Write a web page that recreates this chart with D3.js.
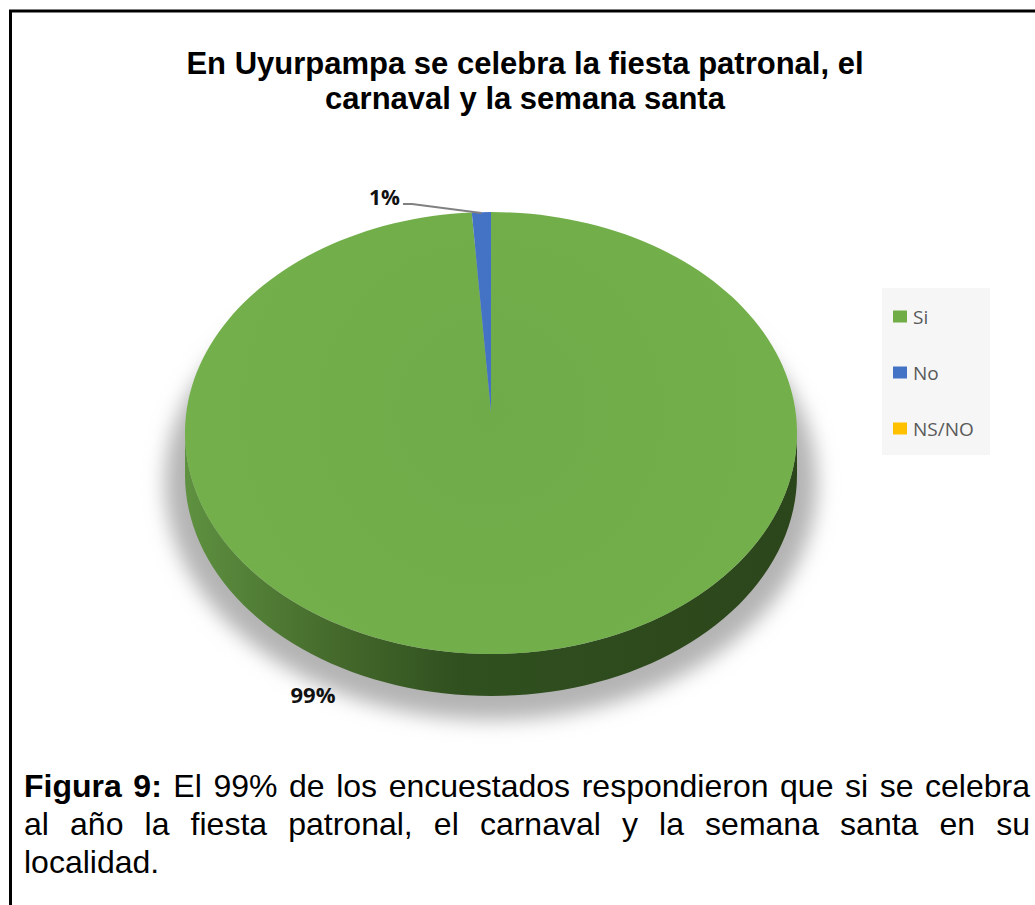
<!DOCTYPE html>
<html>
<head>
<meta charset="utf-8">
<script src="https://cdn.jsdelivr.net/npm/d3@7"></script>
<style>
  body { margin: 0; background: #fff; }
  svg { display: block; }
</style>
</head>
<body>
<svg id="chart" width="1035" height="905"></svg>
<script>
const categories = ['Si', 'No', 'NS/NO']
const values = [99, 1, 0]
const colors = ['#70ad47', '#4472c4', '#ffc000']
const titleLines = ['En Uyurpampa se celebra la fiesta patronal, el', 'carnaval y la semana santa']
const captionLines = [
  [['Figura 9:', true], ['El 99% de los encuestados respondieron que si se celebra', false]],
  [['al año la fiesta patronal, el carnaval y la semana santa en su', false]],
  [['localidad.', false]]
]

const svg = d3.select('#chart')

// frame
svg.append('rect')
  .attr('x', 10.5).attr('y', 11)
  .attr('width', 1040).attr('height', 920)
  .attr('fill', 'none').attr('stroke', '#000').attr('stroke-width', 3)

// title
svg.append('text')
  .attr('text-anchor', 'middle')
  .attr('font-family', 'Liberation Sans, Arial, sans-serif')
  .attr('font-weight', 'bold')
  .attr('font-size', 31)
  .selectAll('tspan')
  .data(titleLines)
  .join('tspan')
    .attr('x', 525)
    .attr('y', (d, i) => 74 + i * 35)
    .text(d => d)

// pie geometry (3d look)
const cx = 491, cy = 433, rx = 306, ry = 221, depth = 42, apexY = 412

const defs = svg.append('defs')
defs.append('filter').attr('id', 'blur')
    .attr('x', '-20%').attr('y', '-20%').attr('width', '140%').attr('height', '140%')
  .append('feGaussianBlur').attr('stdDeviation', 10)

const sideGrad = defs.append('linearGradient').attr('id', 'side')
    .attr('gradientUnits', 'userSpaceOnUse')
    .attr('x1', cx - rx).attr('x2', cx + rx).attr('y1', 0).attr('y2', 0)
sideGrad.selectAll('stop')
  .data([[0, '#5e9140'], [0.25, '#44692b'], [0.45, '#30501f'], [1, '#2c461b']])
  .join('stop')
    .attr('offset', d => d[0])
    .attr('stop-color', d => d[1])

const topGrad = defs.append('radialGradient').attr('id', 'topface')
    .attr('gradientUnits', 'userSpaceOnUse')
    .attr('cx', cx).attr('cy', apexY).attr('r', rx)
topGrad.selectAll('stop')
  .data([[0, '#6fab48'], [1, '#73b04b']])
  .join('stop')
    .attr('offset', d => d[0])
    .attr('stop-color', d => d[1])

// shadow
svg.append('ellipse')
  .attr('cx', cx).attr('cy', cy + 50)
  .attr('rx', rx + 20).attr('ry', ry + 16)
  .attr('fill', '#b4b4b4')
  .attr('filter', 'url(#blur)')

const pie = d3.pie().sort(null).value(d => d)
const arcs = pie(values).map((a, i) => Object.assign(a, { i }))

const pt = (ang, dy = 0) => [cx + rx * Math.sin(ang), cy - ry * Math.cos(ang) + dy]

// sides: only the front half (pi/2 .. 3pi/2)
const sideArcs = arcs.map(a => {
  const s = Math.max(a.startAngle, Math.PI / 2)
  const e = Math.min(a.endAngle, 3 * Math.PI / 2)
  return { i: a.i, s, e }
}).filter(d => d.e > d.s)

svg.append('g').selectAll('path')
  .data(sideArcs)
  .join('path')
    .attr('fill', d => d.i === 0 ? 'url(#side)' : d3.color(colors[d.i]).darker(1.3))
    .attr('d', d => {
      const p = d3.path()
      const [x0, y0] = pt(d.s)
      const [x1, y1] = pt(d.e)
      p.moveTo(x0, y0)
      // sample the ellipse edge
      const n = 80
      for (let k = 1; k <= n; k++) {
        const t = d.s + (d.e - d.s) * k / n
        p.lineTo(...pt(t))
      }
      p.lineTo(x1, y1 + depth)
      for (let k = n - 1; k >= 0; k--) {
        const t = d.s + (d.e - d.s) * k / n
        p.lineTo(...pt(t, depth))
      }
      p.closePath()
      return p.toString()
    })

// top faces
svg.append('g').selectAll('path')
  .data(arcs.filter(a => a.endAngle > a.startAngle))
  .join('path')
    .attr('fill', d => d.i === 0 ? 'url(#topface)' : colors[d.i])
    .attr('d', d => {
      const [x0, y0] = pt(d.startAngle)
      const [x1, y1] = pt(d.endAngle)
      const large = d.endAngle - d.startAngle > Math.PI ? 1 : 0
      return `M${cx},${apexY}L${x0},${y0}A${rx},${ry} 0 ${large} 1 ${x1},${y1}Z`
    })

// data labels
const labelFont = 'Open Sans, Noto Sans, sans-serif'
const smallArc = arcs[1]
const [lx, ly] = pt((smallArc.startAngle + smallArc.endAngle) / 2)
svg.append('path')
  .attr('d', d3.line()([[403, 204], [412, 204], [lx, ly + 1]]))
  .attr('fill', 'none').attr('stroke', '#808080').attr('stroke-width', 2)

svg.append('text')
  .attr('x', 400).attr('y', 205)
  .attr('text-anchor', 'end')
  .attr('font-family', labelFont).attr('font-weight', 'bold').attr('font-size', 21)
  .attr('fill', '#111')
  .text(values[1] + '%')

svg.append('text')
  .attr('x', 313).attr('y', 703)
  .attr('text-anchor', 'middle')
  .attr('font-family', labelFont).attr('font-weight', 'bold').attr('font-size', 22)
  .attr('fill', '#111')
  .text(values[0] + '%')

// legend
const legend = svg.append('g')
legend.append('rect')
  .attr('x', 882).attr('y', 288).attr('width', 108).attr('height', 167)
  .attr('fill', '#f6f6f6')

const item = legend.selectAll('g.item')
  .data(categories)
  .join('g')
    .attr('class', 'item')
    .attr('transform', (d, i) => `translate(893,${316.5 + i * 56})`)
item.append('rect')
  .attr('x', 0).attr('y', -6).attr('width', 14).attr('height', 12)
  .attr('fill', (d, i) => colors[i])
item.append('text')
  .attr('x', 20).attr('y', 7)
  .attr('font-family', labelFont).attr('font-size', 19)
  .attr('fill', '#595959')
  .text(d => d)

// caption, justified lines
const capX0 = 24, capX1 = 1030
captionLines.forEach((line, li) => {
  const y = 797 + li * 38
  const words = []
  line.forEach(([txt, bold]) => txt.split(' ').forEach(w => words.push({ w, bold })))
  const g = svg.append('g')
  const nodes = words.map(d => g.append('text')
    .attr('y', y)
    .attr('font-family', 'Liberation Sans, Arial, sans-serif')
    .attr('font-size', 32)
    .attr('font-weight', d.bold ? 'bold' : 'normal')
    .attr('fill', '#000')
    .text(d.w))
  const widths = nodes.map(n => n.node().getComputedTextLength())
  const justify = li < captionLines.length - 1
  const total = d3.sum(widths)
  const gap = justify ? (capX1 - capX0 - total) / (words.length - 1) : 8.9
  let x = capX0
  nodes.forEach((n, k) => {
    n.attr('x', x)
    x += widths[k] + gap
  })
})
</script>
</body>
</html>
